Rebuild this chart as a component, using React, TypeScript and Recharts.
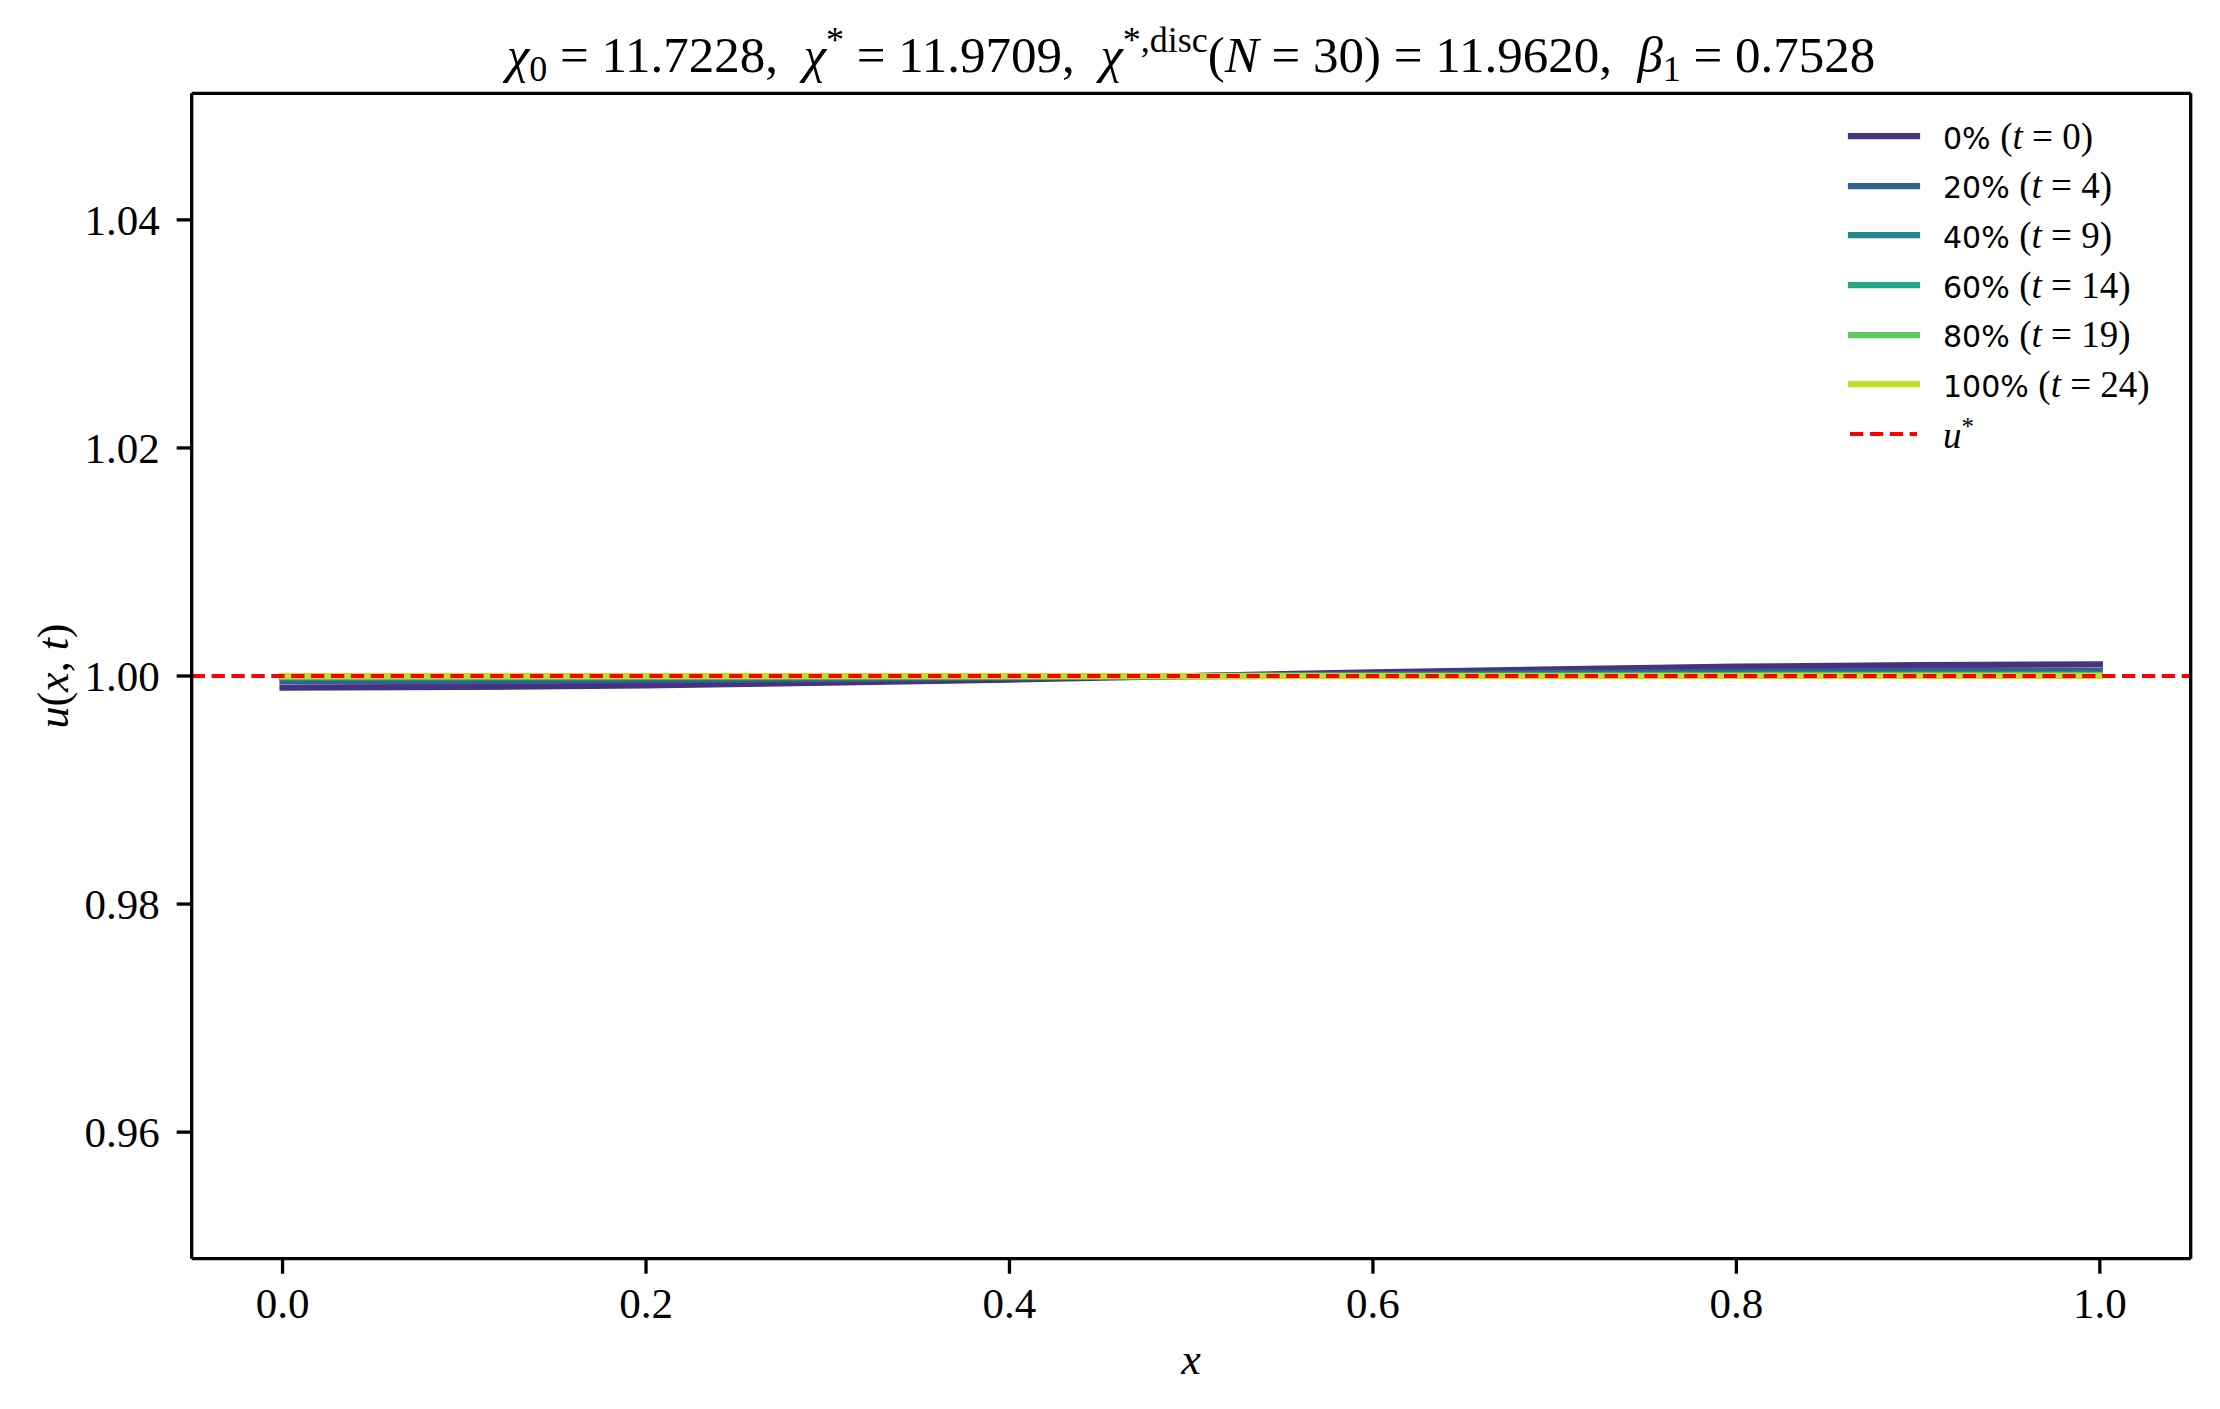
import React from 'react';
import { LineChart, Line, XAxis, YAxis, ReferenceLine, Legend } from 'recharts';

// grid points along x
const xs = [0, 0.1, 0.2, 0.3, 0.4, 0.5, 0.6, 0.7, 0.8, 0.9, 1.0];

// u(x,t) snapshots
const u0 = [0.99899, 0.99904, 0.99918, 0.99941, 0.99969, 1.0, 1.00031, 1.00059, 1.00082, 1.00096, 1.00101];
const u20 = [0.99954, 0.99956, 0.99963, 0.99973, 0.99986, 1.0, 1.00014, 1.00027, 1.00037, 1.00044, 1.00046];
const u40 = [0.99982, 0.99983, 0.99985, 0.99989, 0.99994, 1.0, 1.00006, 1.00011, 1.00015, 1.00017, 1.00018];
const u60 = [0.99993, 0.99993, 0.99994, 0.99996, 0.99998, 1.0, 1.00002, 1.00004, 1.00006, 1.00007, 1.00007];
const u80 = [0.99997, 0.99997, 0.99998, 0.99998, 0.99999, 1.0, 1.00001, 1.00002, 1.00002, 1.00003, 1.00003];
const u100 = [0.99999, 0.99999, 0.99999, 1.0, 1.0, 1.0, 1.0, 1.0, 1.00001, 1.00001, 1.00001];

const pctLabels = ['0%', '20%', '40%', '60%', '80%', '100%'];
const tValues = [0, 4, 9, 14, 19, 24];
const colors = ['#46337f', '#355f8d', '#24868e', '#22a884', '#5ec962', '#bddf26'];

const uStar = 1.0;
const xTicks = [0, 0.2, 0.4, 0.6, 0.8, 1.0];
const yTicks = [0.96, 0.98, 1.0, 1.02, 1.04];

const chi0 = '11.7228';
const chiStar = '11.9709';
const chiDisc = '11.9620';
const discN = 30;
const beta1 = '0.7528';

const series = [u0, u20, u40, u60, u80, u100];
const data = xs.map((x, i) => {
  const row: any = { x };
  series.forEach((s, k) => {
    row['s' + k] = s[i];
  });
  return row;
});

const SERIF = '"Liberation Serif", "Times New Roman", serif';
const SANS = '"DejaVu Sans", sans-serif';
const axisStroke = { stroke: '#000', strokeWidth: 3.3 };
const tickFont = { fontFamily: SERIF, fontSize: 43, fill: '#000' };

function LegendRow({ color, dashed, children }: any) {
  return (
    <div style={{ height: 49.6, display: 'flex', alignItems: 'center', whiteSpace: 'pre' }}>
      <svg width={76} height={12} style={{ display: 'block' }}>
        {dashed ? (
          <line x1={3} y1={6} x2={70} y2={6} stroke={color} strokeWidth={4.2} strokeDasharray="13.3 6.6" />
        ) : (
          <line x1={4} y1={6} x2={70} y2={6} stroke={color} strokeWidth={6.25} strokeLinecap="square" />
        )}
      </svg>
      <div style={{ marginLeft: 20, lineHeight: 1 }}>{children}</div>
    </div>
  );
}

function LegendBox({ payload }: any) {
  const items = (payload || []).filter((e: any) => String(e.dataKey).startsWith('s'));
  return (
    <div style={{ width: 380 }}>
      {items.map((e: any) => {
        const k = Number(String(e.dataKey).slice(1));
        return (
          <LegendRow key={e.dataKey} color={e.color}>
            <span style={{ fontFamily: SANS, fontSize: 30 }}>{pctLabels[k]} </span>
            <span style={{ fontFamily: SERIF, fontSize: 37 }}>
              (<i>t</i>{' = '}{tValues[k]})
            </span>
          </LegendRow>
        );
      })}
      <LegendRow color="#ff0000" dashed>
        <span style={{ fontFamily: SERIF, fontSize: 37 }}>
          <i>u</i>
          <sup style={{ fontSize: 25 }}>*</sup>
        </span>
      </LegendRow>
    </div>
  );
}

export default function App() {
  return (
    <div style={{ position: 'absolute', left: 0, top: 0, width: 2220, height: 1409, background: '#fff' }}>
      <LineChart
        width={2220}
        height={1409}
        data={data}
        margin={{ top: 92.3, right: 28.3, bottom: 149.3, left: 190.7 }}
      >
        <XAxis
          dataKey="x"
          type="number"
          domain={[-0.05, 1.05]}
          allowDataOverflow
          ticks={xTicks}
          tickFormatter={(v: number) => v.toFixed(1)}
          height={1}
          tickSize={15}
          tickMargin={14}
          tick={tickFont}
          axisLine={axisStroke}
          tickLine={axisStroke}
        />
        <XAxis
          xAxisId="top"
          orientation="top"
          dataKey="x"
          type="number"
          domain={[-0.05, 1.05]}
          allowDataOverflow
          height={1}
          tick={false}
          tickLine={false}
          axisLine={axisStroke}
        />
        <YAxis
          type="number"
          domain={[0.9489, 1.0511]}
          allowDataOverflow
          ticks={yTicks}
          tickFormatter={(v: number) => v.toFixed(2)}
          width={1}
          tickSize={15}
          tickMargin={17}
          tick={tickFont}
          axisLine={axisStroke}
          tickLine={axisStroke}
        />
        <YAxis
          yAxisId="right"
          orientation="right"
          type="number"
          domain={[0.9489, 1.0511]}
          allowDataOverflow
          width={1}
          tick={false}
          tickLine={false}
          axisLine={axisStroke}
        />
        {series.map((_, k) => (
          <Line
            key={k}
            dataKey={'s' + k}
            type="linear"
            stroke={colors[k]}
            strokeWidth={6.25}
            strokeLinecap="square"
            dot={false}
            activeDot={false}
            isAnimationActive={false}
          />
        ))}
        <ReferenceLine y={uStar} stroke="#ff0000" strokeWidth={4.2} strokeDasharray="13.3 6.6" />
        <Legend
          verticalAlign="middle"
          content={<LegendBox />}
          wrapperStyle={{ top: 111.5, left: 1847, width: 380, height: 360 }}
        />
      </LineChart>
      <svg
        width={2220}
        height={1409}
        style={{ position: 'absolute', left: 0, top: 0, pointerEvents: 'none' }}
      >
        <text x={1191} y={72} textAnchor="middle" fontFamily={SERIF} fontSize={51} style={{ whiteSpace: 'pre' }}>
          <tspan fontStyle="italic">χ</tspan>
          <tspan fontSize={36} dy={9}>0</tspan>
          <tspan dy={-9}>{` = ${chi0},  `}</tspan>
          <tspan fontStyle="italic">χ</tspan>
          <tspan fontSize={36} dy={-20}>*</tspan>
          <tspan dy={20}>{` = ${chiStar},  `}</tspan>
          <tspan fontStyle="italic">χ</tspan>
          <tspan fontSize={36} dy={-20}>*,disc</tspan>
          <tspan dy={20}>(</tspan>
          <tspan fontStyle="italic">N</tspan>
          <tspan>{` = ${discN}) = ${chiDisc},  `}</tspan>
          <tspan fontStyle="italic">β</tspan>
          <tspan fontSize={36} dy={9}>1</tspan>
          <tspan dy={-9}>{` = ${beta1}`}</tspan>
        </text>
        <text x={1191} y={1374} textAnchor="middle" fontFamily={SERIF} fontSize={44} fontStyle="italic">
          x
        </text>
        <text
          x={53}
          y={676}
          transform="rotate(-90 53 676)"
          textAnchor="middle"
          dominantBaseline="central"
          fontFamily={SERIF}
          fontSize={44}
          style={{ whiteSpace: 'pre' }}
        >
          <tspan fontStyle="italic">u</tspan>
          <tspan>(</tspan>
          <tspan fontStyle="italic">x</tspan>
          <tspan>, </tspan>
          <tspan fontStyle="italic">t</tspan>
          <tspan>)</tspan>
        </text>
      </svg>
    </div>
  );
}
